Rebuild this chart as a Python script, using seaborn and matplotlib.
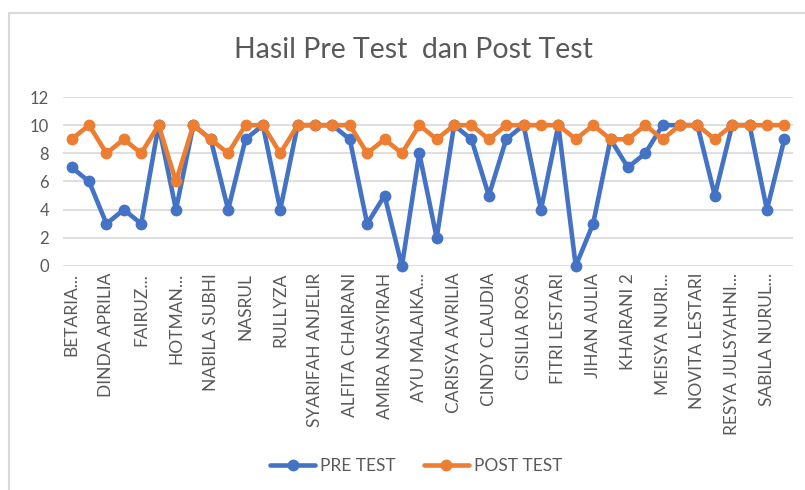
import numpy as np
import pandas as pd
import matplotlib
matplotlib.use("Agg")
import matplotlib.pyplot as plt
from matplotlib.lines import Line2D
import seaborn as sns

# 42 students, only every other name is shown on the axis
tick_names = ["BETARIA...", "DINDA APRILIA", "FAIRUZ...", "HOTMAN...",
              "NABILA SUBHI", "NASRUL", "RULLYZA", "SYARIFAH ANJELIR",
              "ALFITA CHAIRANI", "AMIRA NASYIRAH", "AYU MALAIKA...",
              "CARISYA AVRILIA", "CINDY CLAUDIA", "CISILIA ROSA",
              "FITRI LESTARI", "JIHAN AULIA", "KHAIRANI 2", "MEISYA NURI...",
              "NOVITA LESTARI", "RESYA JULSYAHNI...", "SABILA NURUL..."]

pre_test = [7, 6, 3, 4, 3, 10, 4, 10, 9, 4, 9, 10, 4, 10, 10, 10, 9, 3, 5, 0, 8,
            2, 10, 9, 5, 9, 10, 4, 10, 0, 3, 9, 7, 8, 10, 10, 10, 5, 10, 10, 4, 9]
post_test = [9, 10, 8, 9, 8, 10, 6, 10, 9, 8, 10, 10, 8, 10, 10, 10, 10, 8, 9, 8, 10,
             9, 10, 10, 9, 10, 10, 10, 10, 9, 10, 9, 9, 10, 9, 10, 10, 9, 10, 10, 10, 10]

idx = np.arange(len(pre_test))
df = pd.concat([
    pd.DataFrame({"no": idx, "nilai": pre_test, "seri": "PRE TEST"}),
    pd.DataFrame({"no": idx, "nilai": post_test, "seri": "POST TEST"}),
])

sns.set_style("white")
plt.rcParams["font.family"] = ["Lato", "DejaVu Sans"]

blue = "#4472C4"
orange = "#ED7D31"
grey = "#595959"

fig = plt.figure(figsize=(8.05, 4.9), dpi=100)
ax = fig.add_axes([63 / 805, 1 - 266 / 490, 730 / 805, 169 / 490])

sns.lineplot(data=df, x="no", y="nilai", hue="seri", style="seri",
             palette={"PRE TEST": blue, "POST TEST": orange},
             markers={"PRE TEST": "o", "POST TEST": "o"}, dashes=False,
             linewidth=3.3, markersize=8.5, markeredgewidth=0,
             legend=False, ax=ax)
for ln in ax.lines:
    ln.set_clip_on(False)

ax.set_xlim(-0.5, len(pre_test) - 0.5)
ax.set_ylim(0, 12)
ax.set_yticks(range(0, 13, 2))
ax.set_xticks(idx[::2])
ax.set_xticklabels(tick_names, rotation=90, fontsize=12.5, color=grey)
ax.tick_params(axis="y", labelsize=12, labelcolor=grey, length=0, pad=10)
ax.tick_params(axis="x", length=0, pad=5)
ax.grid(axis="y", color="#D9D9D9", linewidth=1.2)
ax.set_axisbelow(True)
for s in ax.spines.values():
    s.set_visible(False)
ax.set_xlabel("")
ax.set_ylabel("")

fig.text(0.513, 1 - 50 / 490, "Hasil Pre Test  dan Post Test",
         ha="center", va="center", fontsize=20.5, color=grey)

handles = [Line2D([], [], color=blue, lw=3.3, marker="o", ms=8.5, mew=0),
           Line2D([], [], color=orange, lw=3.3, marker="o", ms=8.5, mew=0)]
fig.legend(handles, ["PRE TEST", "POST TEST"], loc="center",
           bbox_to_anchor=(0.517, 1 - 466 / 490), ncol=2, frameon=False,
           fontsize=12.5, labelcolor=grey, handlelength=2.6, columnspacing=1.6,
           handletextpad=0.3)

# chart frame (cropped on right and bottom)
fig.add_artist(Line2D([9 / 805, 9 / 805], [0, 1 - 13 / 490],
                      color="#D9D9D9", lw=1.5, transform=fig.transFigure))
fig.add_artist(Line2D([9 / 805, 1], [1 - 13 / 490, 1 - 13 / 490],
                      color="#D9D9D9", lw=1.5, transform=fig.transFigure))

fig.savefig("out.png", dpi=100)
